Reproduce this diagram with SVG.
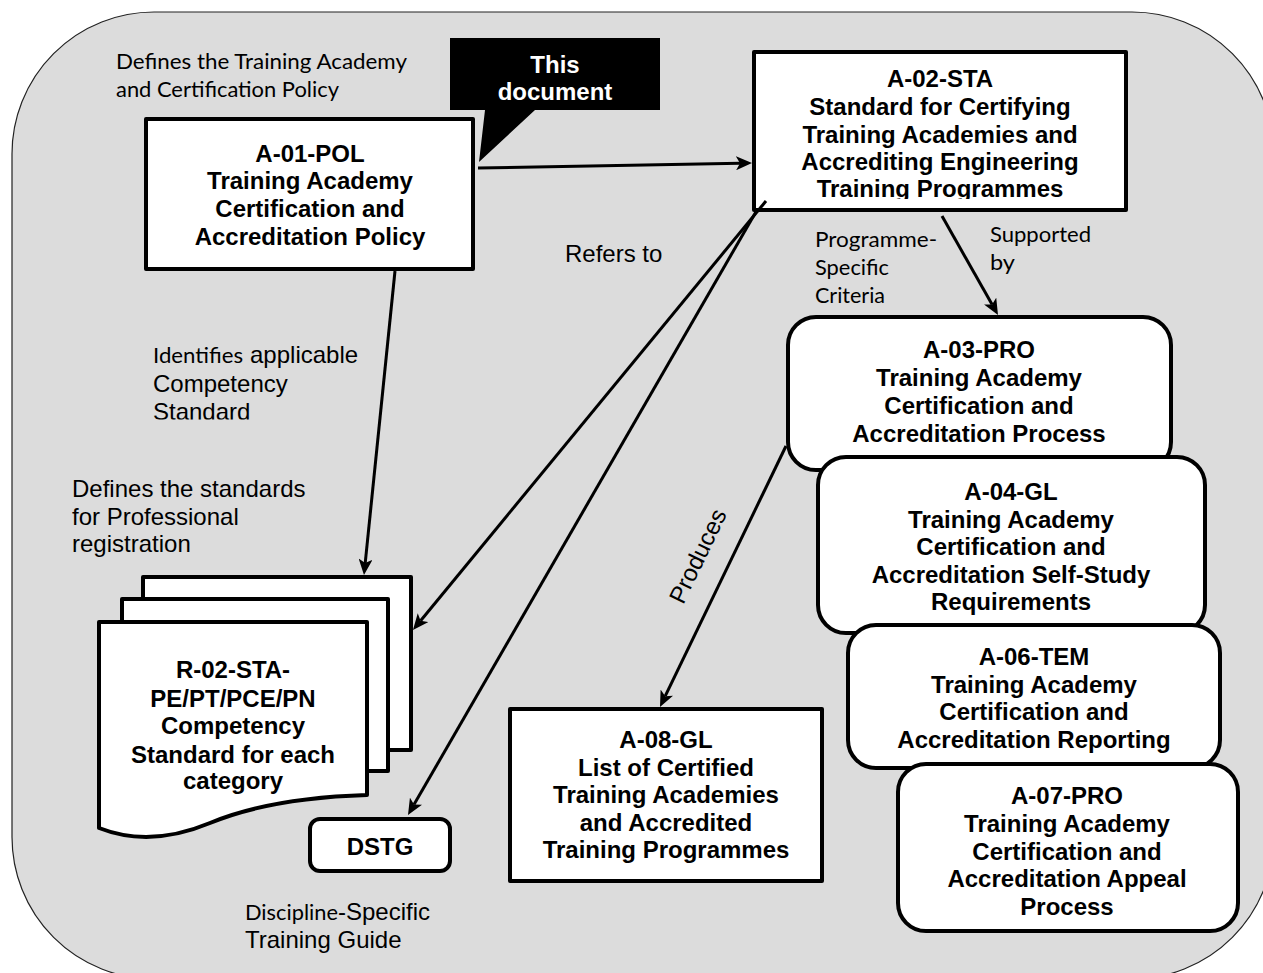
<svg xmlns="http://www.w3.org/2000/svg" width="1263" height="973" viewBox="0 0 1263 973">
<defs>
<style>
.bg{fill:#dcdcdc;stroke:#222;stroke-width:1.2}
.box{fill:#fff;stroke:#000;stroke-width:4;stroke-linejoin:round}
.b{font-family:"Liberation Sans",Arial,sans-serif;font-weight:bold;font-size:24px;fill:#000;text-anchor:middle}
.w{fill:#fff}
.r{font-family:"Liberation Sans",Arial,sans-serif;font-size:24px;fill:#000}
.c{font-family:Lato,"Open Sans",sans-serif;font-size:21px;fill:#000}
.ln{fill:none;stroke:#000;stroke-width:3}
</style>
<marker id="ah" markerUnits="userSpaceOnUse" markerWidth="17" markerHeight="14" refX="4" refY="7" orient="auto" viewBox="0 0 17 14"><path d="M0,0 L16,7 L0,14 L4,7 Z" fill="#000"/></marker>
<clipPath id="clipA02"><rect x="754" y="52" width="372" height="147"/></clipPath>
<clipPath id="clipA07"><rect x="898" y="764" width="340" height="151"/></clipPath>
<clipPath id="clipIdent"><rect x="140" y="330" width="300" height="89.5"/></clipPath>
</defs>

<rect id="background" class="bg" x="12" y="12" width="1262" height="967" rx="142" ry="142"/>

<g id="labels">
<text class="c" x="116" y="69" textLength="291" lengthAdjust="spacingAndGlyphs">Defines the Training Academy</text>
<text class="c" x="116" y="97" textLength="223" lengthAdjust="spacingAndGlyphs">and Certification Policy</text>
<text class="r" x="565" y="262">Refers to</text>
<text class="c" x="815" y="247" textLength="122" lengthAdjust="spacingAndGlyphs">Programme-</text>
<text class="c" x="815" y="275" textLength="74" lengthAdjust="spacingAndGlyphs">Specific</text>
<text class="c" x="815" y="303" textLength="70" lengthAdjust="spacingAndGlyphs">Criteria</text>
<text class="c" x="990" y="242" textLength="101" lengthAdjust="spacingAndGlyphs">Supported</text>
<text class="c" x="990" y="270" textLength="25" lengthAdjust="spacingAndGlyphs">by</text>
<g clip-path="url(#clipIdent)">
<text class="c" x="153" y="363" textLength="90" lengthAdjust="spacingAndGlyphs">Identifies</text>
<text class="r" x="250" y="363">applicable</text>
<text class="r" x="153" y="392">Competency</text>
<text class="r" x="153" y="420">Standard</text>
</g>
<text class="r" x="72" y="497">Defines the standards</text>
<text class="r" x="72" y="525">for Professional</text>
<text class="r" x="72" y="552">registration</text>
<text class="c" x="245" y="920" textLength="93" lengthAdjust="spacingAndGlyphs">Discipline</text>
<text class="r" x="338" y="920">-Specific</text>
<text class="r" x="245" y="948">Training Guide</text>
<text class="r" x="698" y="564" text-anchor="middle" transform="rotate(-64.2 698 556)">Produces</text>
</g>

<g id="n-a01">
<rect class="box" x="146" y="119" width="327" height="150"/>
<text class="b" x="310" y="162">A-01-POL</text>
<text class="b" x="310" y="189">Training Academy</text>
<text class="b" x="310" y="217">Certification and</text>
<text class="b" x="310" y="245">Accreditation Policy</text>
</g>

<g id="n-callout">
<path d="M450,38 H660 V110 H535 L479,162 L485,110 H450 Z" fill="#000"/>
<text class="b w" x="555" y="73">This</text>
<text class="b w" x="555" y="100">document</text>
</g>

<g id="n-a02">
<rect class="box" x="754" y="52" width="372" height="158"/>
<g clip-path="url(#clipA02)">
<text class="b" x="940" y="87">A-02-STA</text>
<text class="b" x="940" y="115">Standard for Certifying</text>
<text class="b" x="940" y="143">Training Academies and</text>
<text class="b" x="940" y="170">Accrediting Engineering</text>
<text class="b" x="940" y="197">Training Programmes</text>
</g>
</g>

<g id="n-a03">
<rect class="box" x="788" y="317" width="383" height="153" rx="28" ry="28"/>
<text class="b" x="979" y="358">A-03-PRO</text>
<text class="b" x="979" y="386">Training Academy</text>
<text class="b" x="979" y="414">Certification and</text>
<text class="b" x="979" y="442">Accreditation Process</text>
</g>

<g id="n-a04">
<rect class="box" x="818" y="457" width="387" height="176" rx="28" ry="28"/>
<text class="b" x="1011" y="500">A-04-GL</text>
<text class="b" x="1011" y="528">Training Academy</text>
<text class="b" x="1011" y="555">Certification and</text>
<text class="b" x="1011" y="583">Accreditation Self-Study</text>
<text class="b" x="1011" y="610">Requirements</text>
</g>

<g id="n-a06">
<rect class="box" x="848" y="625" width="372" height="143" rx="28" ry="28"/>
<text class="b" x="1034" y="665">A-06-TEM</text>
<text class="b" x="1034" y="693">Training Academy</text>
<text class="b" x="1034" y="720">Certification and</text>
<text class="b" x="1034" y="748">Accreditation Reporting</text>
</g>

<g id="n-a07">
<rect class="box" x="898" y="764" width="340" height="167" rx="28" ry="28"/>
<g clip-path="url(#clipA07)">
<text class="b" x="1067" y="804">A-07-PRO</text>
<text class="b" x="1067" y="832">Training Academy</text>
<text class="b" x="1067" y="860">Certification and</text>
<text class="b" x="1067" y="887">Accreditation Appeal</text>
<text class="b" x="1067" y="915">Process</text>
</g>
</g>

<g id="n-a08">
<rect class="box" x="510" y="709" width="312" height="172"/>
<text class="b" x="666" y="748">A-08-GL</text>
<text class="b" x="666" y="776">List of Certified</text>
<text class="b" x="666" y="803">Training Academies</text>
<text class="b" x="666" y="831">and Accredited</text>
<text class="b" x="666" y="858">Training Programmes</text>
</g>

<g id="n-r02">
<rect class="box" x="143" y="577" width="268" height="173"/>
<rect class="box" x="122" y="599" width="266" height="172"/>
<path class="box" d="M99,622 H367 V795 Q270,798 210,823 Q150,848 99,828 Z"/>
<text class="b" x="233" y="678">R-02-STA-</text>
<text class="b" x="233" y="707">PE/PT/PCE/PN</text>
<text class="b" x="233" y="734">Competency</text>
<text class="b" x="233" y="763">Standard for each</text>
<text class="b" x="233" y="789">category</text>
</g>

<g id="n-dstg">
<rect class="box" x="310" y="819" width="140" height="52" rx="10" ry="10"/>
<text class="b" x="380" y="855">DSTG</text>
</g>

<g id="connectors">
<line class="ln" x1="478" y1="168" x2="740" y2="163.2" marker-end="url(#ah)"/>
<line class="ln" x1="395" y1="271" x2="365.2" y2="563.1" marker-end="url(#ah)"/>
<line class="ln" x1="766" y1="201" x2="420.6" y2="620.7" marker-end="url(#ah)"/>
<line class="ln" x1="757" y1="210" x2="414" y2="804.6" marker-end="url(#ah)"/>
<line class="ln" x1="942" y1="216" x2="992.1" y2="304.6" marker-end="url(#ah)"/>
<line class="ln" x1="786" y1="446" x2="665.2" y2="696.2" marker-end="url(#ah)"/>
</g>
</svg>
